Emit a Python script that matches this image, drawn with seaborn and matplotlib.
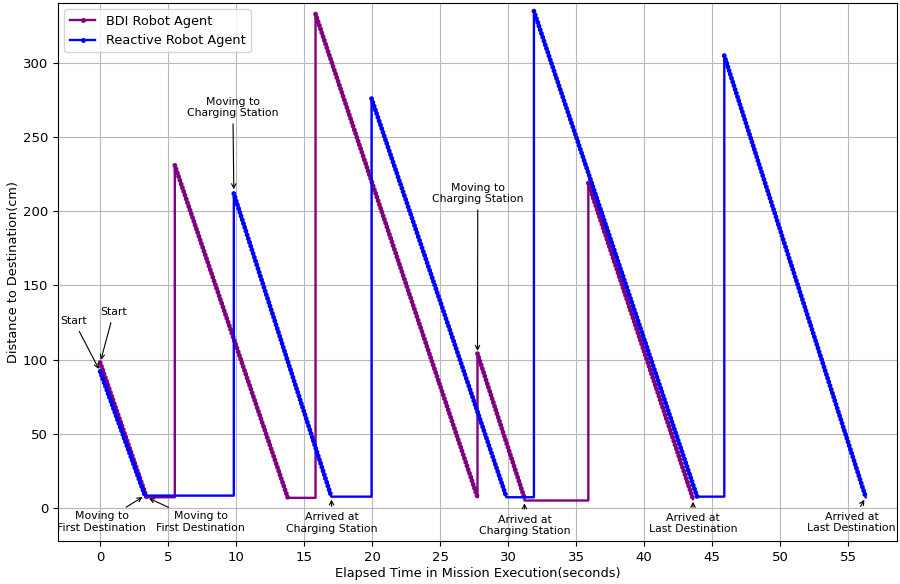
import pandas as pd
import numpy as np
import matplotlib
matplotlib.use("Agg")
import matplotlib.pyplot as plt
import seaborn as sns
from matplotlib.lines import Line2D

# corner points of each robot's distance trace (time s, distance cm)
bdi_time = [0.0, 3.41, 5.49, 5.49, 13.8, 15.84, 15.84, 27.75, 27.75, 31.2, 31.2, 35.9, 35.9, 43.6]
bdi_dist = [98, 7.2, 7.2, 231, 6.8, 6.8, 333, 7.2, 104, 6.7, 5.0, 5.0, 219, 6.0]

reactive_time = [0.0, 3.29, 9.83, 9.83, 17.0, 19.96, 19.96, 29.88, 31.9, 31.9, 43.9, 45.9, 45.9, 56.3]
reactive_dist = [92, 8.3, 8.3, 212, 7.6, 7.6, 276, 7.2, 7.2, 335, 7.6, 7.6, 305, 7.2]

# annotations: text, arrow target, text position
notes = [
    ("Start", (0, 92), (-1.93, 126)),
    ("Start", (0, 98), (1.0, 132)),
    ("Moving to\nFirst Destination", (3.29, 8.3), (0.12, -9.6)),
    ("Moving to\nFirst Destination", (3.41, 7.2), (7.4, -9.6)),
    ("Moving to\nCharging Station", (9.83, 213), (9.76, 270)),
    ("Arrived at\nCharging Station", (17.0, 7.6), (17.06, -10)),
    ("Moving to\nCharging Station", (27.75, 104), (27.77, 212)),
    ("Arrived at\nCharging Station", (31.2, 5.0), (31.22, -11.8)),
    ("Arrived at\nLast Destination", (43.6, 6.0), (43.6, -10.6)),
    ("Arrived at\nLast Destination", (56.3, 7.2), (55.25, -9.8)),
]


def moving_parts(t, d):
    # pick out the segments where the robot is driving (distance falling over time)
    rows = []
    for i in range(len(t) - 1):
        if t[i + 1] > t[i] and d[i + 1] < d[i] - 1:
            rows.append((i, t[i], d[i]))
            rows.append((i, t[i + 1], d[i + 1]))
    return pd.DataFrame(rows, columns=["seg", "time", "dist"])


fig, ax = plt.subplots(figsize=(9, 5.84), dpi=100)
fig.subplots_adjust(left=58 / 900, right=897 / 900, top=1 - 3 / 584, bottom=1 - 541 / 584)

for t, d, c in [(bdi_time, bdi_dist, "purple"), (reactive_time, reactive_dist, "blue")]:
    df = pd.DataFrame({"time": t, "dist": d})
    sns.lineplot(data=df, x="time", y="dist", sort=False, estimator=None,
                 color=c, lw=1.7, ax=ax, legend=False)
    seg = moving_parts(t, d)
    # sample dots along the driving parts
    sns.lineplot(data=seg, x="time", y="dist", units="seg", estimator=None, sort=False,
                 color=c, lw=3.5, linestyle=(0, (0.01, 0.8)), dash_capstyle="round",
                 ax=ax, legend=False)

for txt, xy, xytext in notes:
    ax.annotate(txt, xy=xy, xytext=xytext, ha="center", va="center", fontsize=7.8,
                arrowprops=dict(arrowstyle="->", color="black", lw=0.8))

ax.set_xlim(-3.1, 58.6)
ax.set_ylim(-22.3, 340.5)
ax.set_xticks(range(0, 56, 5))
ax.set_yticks(range(0, 301, 50))
ax.tick_params(labelsize=9.5)
ax.grid(True, color="#b8b8b8", lw=0.8)
ax.set_xlabel("Elapsed Time in Mission Execution(seconds)", fontsize=9.3, labelpad=2)
ax.set_ylabel("Distance to Destination(cm)", fontsize=9.3, labelpad=2)

handles = [Line2D([], [], color="purple", lw=1.7, marker=".", markersize=5),
           Line2D([], [], color="blue", lw=1.7, marker=".", markersize=5)]
ax.legend(handles, ["BDI Robot Agent", "Reactive Robot Agent"], loc="upper left", fontsize=9.3)

plt.savefig("out.png", dpi=100)
